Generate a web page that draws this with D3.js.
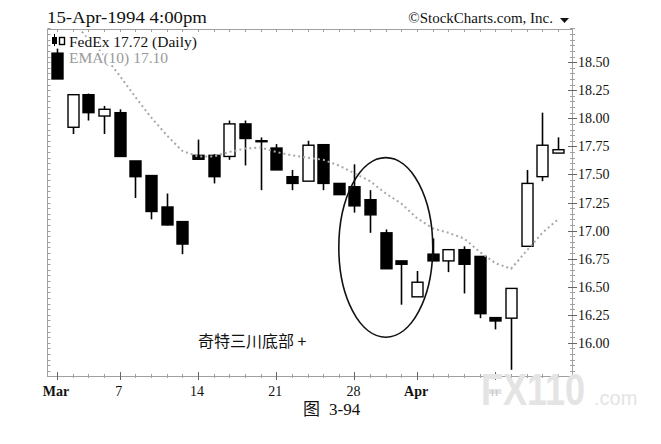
<!DOCTYPE html>
<html><head><meta charset="utf-8">
<script src="https://cdn.jsdelivr.net/npm/d3@7"></script>
<style>
html,body{margin:0;padding:0;background:#fff;}
svg{display:block;}
</style></head>
<body>
<svg id="chart" width="661" height="444"></svg>
<script>
// ---- data ----
const dates = ["1994-03-01","1994-03-02","1994-03-03","1994-03-04","1994-03-07","1994-03-08","1994-03-09","1994-03-10","1994-03-11",
  "1994-03-14","1994-03-15","1994-03-16","1994-03-17","1994-03-18","1994-03-21","1994-03-22","1994-03-23","1994-03-24","1994-03-25",
  "1994-03-28","1994-03-29","1994-03-30","1994-03-31","1994-04-04","1994-04-05","1994-04-06","1994-04-07","1994-04-08",
  "1994-04-11","1994-04-12","1994-04-13","1994-04-14","1994-04-15"];
const openV  = [18.58,17.92,18.21,18.02,18.05,17.62,17.49,17.21,17.08,17.67,17.67,17.66,17.95,17.80,17.735,17.48,17.44,17.765,17.42,17.39,17.275,16.98,16.73,16.41,16.79,16.73,16.83,16.77,16.225,16.22,16.86,17.48,17.69];
const highV  = [18.62,18.21,18.22,18.11,18.08,17.62,17.49,17.33,17.08,17.81,17.68,17.98,17.98,17.83,17.77,17.54,17.80,17.77,17.42,17.59,17.36,17.01,16.73,16.64,16.93,16.83,16.86,16.77,16.225,16.485,17.54,18.05,17.83];
const lowV   = [18.35,17.86,17.98,17.86,17.66,17.29,17.10,17.045,16.79,17.63,17.42,17.63,17.58,17.36,17.54,17.36,17.44,17.36,17.32,17.16,16.98,16.66,16.34,16.41,16.73,16.63,16.44,16.22,16.12,15.76,16.86,17.44,17.69];
const closeV = [18.35,18.21,18.05,18.08,17.66,17.48,17.17,17.05,16.88,17.635,17.48,17.95,17.82,17.80,17.54,17.42,17.76,17.42,17.32,17.22,17.14,16.66,16.70,16.54,16.73,16.83,16.70,16.26,16.195,16.485,17.42,17.76,17.72];
const emaV   = [18.99,18.86,18.71,18.56,18.38,18.19,18.01,17.85,17.71,17.66,17.66,17.70,17.73,17.74,17.70,17.67,17.65,17.63,17.58,17.51,17.44,17.33,17.24,17.11,17.02,16.98,16.93,16.81,16.71,16.66,16.82,16.98,17.10];
const yTicks = [16.00,16.25,16.50,16.75,17.00,17.25,17.50,17.75,18.00,18.25,18.50];
const xTickDates  = ["1994-03-01","1994-03-07","1994-03-14","1994-03-21","1994-03-28","1994-04-04","1994-04-11"];
const xTickLabels = ["Mar","7","14","21","28","Apr","11"];
const xTickBold   = [true,false,false,false,false,true,false];
const titleText = "15-Apr-1994 4:00pm";
const creditText = "\u00A9StockCharts.com, Inc.";
const legendMain = "FedEx 17.72 (Daily)";
const legendEma = "EMA(10) 17.10";
const noteText = "奇特三川底部 +";
const captionA = "图", captionB = "3-94";
const watermarkA = "FX110", watermarkB = ".com";
// ellipse marking the pattern: centre date / price, half width in days, half height in price
const ellipseSpec = {date:"1994-03-30", price:16.85, halfDays:3.0, halfPrice:0.80};

// ---- layout ----
const W = 661, H = 444;
const plot = {l:47, r:572, t:29, b:376};
const svg = d3.select("#chart");
const serif = "'Liberation Serif','DejaVu Serif',serif";

const x = d3.scalePoint().domain(dates).range([57, 558]);
const step = x.step();
const y = d3.scaleLinear().domain([15.705, 18.795]).range([plot.b, plot.t]);

svg.append("defs").append("clipPath").attr("id","clip")
  .append("rect").attr("x",plot.l).attr("y",plot.t).attr("width",plot.r-plot.l).attr("height",plot.b-plot.t);

// frame
const frame = svg.append("g").attr("stroke","#a0a0a0").attr("stroke-width",1).attr("fill","none");
frame.append("rect").attr("x",plot.l+0.5).attr("y",plot.t+0.5).attr("width",plot.r-plot.l).attr("height",plot.b-plot.t);

const minorY = d3.range(15.75, 18.80, 0.05);
frame.selectAll(".ml").data(minorY).join("line")
  .attr("x1",plot.l+0.5).attr("x2",plot.l+3.5)
  .attr("y1",d=>Math.round(y(d))+0.5).attr("y2",d=>Math.round(y(d))+0.5);
frame.selectAll(".mr").data(minorY).join("line")
  .attr("x1",plot.r-2).attr("x2",plot.r+3)
  .attr("y1",d=>Math.round(y(d))+0.5).attr("y2",d=>Math.round(y(d))+0.5);
frame.selectAll(".Mr").data(yTicks).join("line")
  .attr("stroke","#666")
  .attr("x1",plot.r-4).attr("x2",plot.r+5)
  .attr("y1",d=>Math.round(y(d))+0.5).attr("y2",d=>Math.round(y(d))+0.5);
frame.selectAll(".dt").data(dates).join("line")
  .attr("x1",d=>Math.round(x(d))+0.5).attr("x2",d=>Math.round(x(d))+0.5)
  .attr("y1",plot.t).attr("y2",plot.t+3);
frame.selectAll(".db").data(dates).join("line")
  .attr("x1",d=>Math.round(x(d))+0.5).attr("x2",d=>Math.round(x(d))+0.5)
  .attr("y1",plot.b-2).attr("y2",plot.b+2);
frame.selectAll(".wb").data(xTickDates).join("line")
  .attr("stroke","#666")
  .attr("x1",d=>Math.round(x(d))+0.5).attr("x2",d=>Math.round(x(d))+0.5)
  .attr("y1",plot.b-4).attr("y2",plot.b+4);

// y labels
svg.append("g").selectAll("text").data(yTicks).join("text")
  .attr("x",plot.r+6).attr("y",d=>y(d)+5)
  .attr("font-family",serif).attr("font-size",14).attr("fill","#111")
  .text(d=>d.toFixed(2));

// watermark (behind the axis labels)
const wm = svg.append("g").attr("fill","#e4e4e4").attr("font-family","'Liberation Sans',sans-serif");
wm.append("text").attr("transform","translate(481,405) scale(1,1.25)")
  .attr("font-weight","bold").attr("font-size",36).text(watermarkA);
wm.append("text").attr("x",594).attr("y",405).attr("font-size",20).text(watermarkB);

// x labels
svg.append("g").selectAll("text").data(xTickDates).join("text")
  .attr("x",d=>x(d)-1).attr("y",396)
  .attr("text-anchor","middle")
  .attr("font-family",serif)
  .attr("fill",(d,i)=>i===xTickDates.length-1?"#bbb":"#111")
  .attr("font-size",(d,i)=>i===xTickDates.length-1?9:14)
  .attr("font-weight",(d,i)=>xTickBold[i]?"bold":"normal")
  .text((d,i)=>xTickLabels[i]);

// candles
const bw = Math.round(step*0.7);
const data = dates.map((d,i)=>({d,o:openV[i],h:highV[i],l:lowV[i],c:closeV[i]}));
const cg = svg.append("g").attr("clip-path","url(#clip)");
const cs = cg.selectAll("g").data(data).join("g");
cs.append("line")
  .attr("x1",d=>Math.round(x(d.d))+0.5).attr("x2",d=>Math.round(x(d.d))+0.5)
  .attr("y1",d=>y(d.h)).attr("y2",d=>y(d.l))
  .attr("stroke","#000").attr("stroke-width",1.6);
cs.append("rect")
  .attr("x",d=>Math.round(x(d.d))+0.5-bw/2)
  .attr("y",d=>y(Math.max(d.o,d.c)))
  .attr("width",bw)
  .attr("height",d=>Math.max(1,Math.abs(y(d.o)-y(d.c))))
  .attr("fill",d=>d.c>=d.o && d.c!==d.o ? "#fff" : "#000")
  .attr("stroke","#000").attr("stroke-width",1.4);

// EMA
const emaLine = d3.line().x((d,i)=>x(dates[i])).y(d=>y(d));
cg.append("path").datum(emaV).attr("d",emaLine)
  .attr("fill","none").attr("stroke","#a8a8a8").attr("stroke-width",2)
  .attr("stroke-dasharray","2 3");

// ellipse
svg.append("ellipse")
  .attr("cx",x(ellipseSpec.date))
  .attr("cy",y(ellipseSpec.price))
  .attr("rx",ellipseSpec.halfDays*step)
  .attr("ry",y(ellipseSpec.price-ellipseSpec.halfPrice)-y(ellipseSpec.price))
  .attr("fill","none").attr("stroke","#111").attr("stroke-width",1.6);

// legend
const lg = svg.append("g");
lg.append("line").attr("x1",54.5).attr("x2",54.5).attr("y1",34).attr("y2",46).attr("stroke","#000").attr("stroke-width",1);
lg.append("rect").attr("x",52).attr("y",37).attr("width",5).attr("height",7).attr("fill","#000");
lg.append("rect").attr("x",59.5).attr("y",37.5).attr("width",5).attr("height",7).attr("fill","#fff").attr("stroke","#000").attr("stroke-width",1.4);
lg.append("text").attr("x",69).attr("y",47).attr("font-family",serif).attr("font-size",15.5).attr("fill","#111")
  .attr("stroke","#fff").attr("stroke-width",4).attr("paint-order","stroke").text(legendMain);
lg.append("text").attr("x",69).attr("y",63).attr("font-family",serif).attr("font-size",15.5).attr("fill","#999")
  .attr("stroke","#fff").attr("stroke-width",4).attr("paint-order","stroke").text(legendEma);

// title and credit
svg.append("text").attr("x",47).attr("y",23).attr("font-family",serif).attr("font-size",17)
  .attr("textLength",160).attr("lengthAdjust","spacingAndGlyphs").attr("fill","#111").text(titleText);
svg.append("text").attr("x",553).attr("y",23).attr("text-anchor","end").attr("font-family",serif).attr("font-size",15).attr("fill","#111").text(creditText);
svg.append("path").attr("d","M560,18 L569,18 L564.5,23 Z").attr("fill","#111");

// annotation
svg.append("text").attr("x",198).attr("y",347).attr("font-family","'Noto Sans CJK SC',sans-serif").attr("font-size",16).attr("fill","#111").text(noteText);

// caption
svg.append("text").attr("x",303).attr("y",415).attr("font-family","'Noto Sans CJK SC',sans-serif").attr("font-size",17).attr("fill","#111").text(captionA);
svg.append("text").attr("x",329).attr("y",415).attr("font-family",serif).attr("font-size",17).attr("fill","#111").text(captionB);
</script>
</body></html>
